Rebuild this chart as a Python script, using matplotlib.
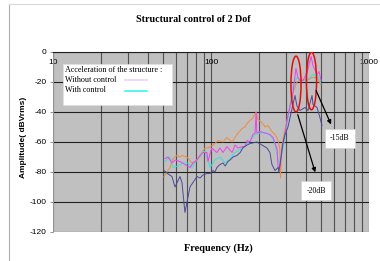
import matplotlib
matplotlib.use("Agg")
from matplotlib import pyplot as plt
from matplotlib.patches import Ellipse, Rectangle
from matplotlib.lines import Line2D
from matplotlib.ticker import FixedLocator, NullFormatter

# ---- data (Hz, dBVrms) ----
freq_navy = [50.4, 53, 56.6, 59.2, 63.6, 65.5, 68.4, 70.5, 73.6, 76.9, 81.5, 85.1, 89, 94.3, 98.6,
             103, 106, 109, 114, 119, 123, 128, 132, 138, 146, 153, 159, 169, 177, 195, 210, 226,
             236, 243, 254, 266, 269, 277, 285, 294, 307, 316, 330, 340, 350, 366, 393, 411, 436,
             442, 469, 490, 504]
amp_navy = [-79, -81, -83, -90, -83, -87, -107, -100, -90, -87, -83, -84, -82, -81, -81,
            -79, -80, -77, -75, -74, -76, -73, -72, -70, -69, -67, -64, -62, -61, -60, -62, -64,
            -67, -75, -79, -77, -80, -71, -61, -55, -50, -44, -35, -29, -36, -39, -37, -39, -29,
            -35, -37, -44, -49]

freq_orange = [50.4, 53.4, 55, 57.4, 60.9, 63.6, 65.5, 70.5, 75.8, 79.2, 85.1, 87.7, 91.6, 95.7,
               103, 111, 119, 126, 136, 146, 157, 164, 171, 184, 193, 198, 210, 220, 229, 243,
               254, 266, 273, 275, 281, 294, 307, 330, 350, 377, 405, 436, 469, 483, 497]
amp_orange = [-83, -79, -77, -71, -69, -70, -69, -70, -74, -73, -70, -67, -64, -64,
              -62, -59, -60, -57, -60, -55, -51, -50, -47, -44, -40, -45, -47, -50, -49, -53,
              -55, -59, -65, -84, -62, -52, -43, -27, -20, -18, -19, -17, -17, -20, -22]

freq_magenta = [51.2, 53.4, 56.6, 59.2, 63.6, 68.4, 73.6, 76.9, 81.5, 85.1, 89, 94.3, 95.7, 101,
                109, 114, 119, 126, 136, 142, 148, 159, 164, 169, 177, 184, 190, 193, 195, 204,
                220, 236, 247, 262, 266, 273, 281, 294, 307, 330, 340, 345, 355, 366, 382, 405,
                430, 442, 469, 483, 497]
amp_magenta = [-71, -70, -74, -72, -73, -75, -77, -74, -72, -69, -67, -67, -73, -64,
               -67, -64, -67, -63, -67, -62, -64, -63, -63, -59, -60, -55, -54, -40, -54, -53,
               -54, -55, -57, -65, -77, -76, -65, -54, -42, -28, -16, -11, -17, -19, -19, -14,
               -3, -9, -15, -13, -19]

freq_cyan = [51.2, 55, 57.4, 61.8, 66.5, 71.5, 75.8, 81.5, 87.7, 91.6, 98.6, 106, 114, 123, 132,
             142, 153, 162, 169, 177, 190, 204, 226, 243, 254, 262, 269, 281, 294, 307, 330, 350,
             366, 393, 424, 442, 475, 497]
amp_cyan = [-73, -70, -77, -76, -74, -74, -77, -72, -67, -66, -77, -72, -70, -74, -71,
            -67, -65, -63, -61, -59, -55, -54, -54, -57, -61, -69, -74, -68, -57, -44, -22, -17,
            -19, -19, -17, -15, -16, -21]

yticks = [0, -20, -40, -60, -80, -100, -120]
xticks = [10, 100, 1000]
legend_title = "Acceleration of the structure :"
legend_labels = ["Without control", "With control"]
legend_colors = ["#e8ccff", "#30f0f0"]

SERIF = "Liberation Serif"
SANS = "Liberation Sans"
W, H = 380.0, 261.0

fig = plt.figure(figsize=(3.8, 2.61), dpi=100)
fig.patch.set_facecolor("white")
ax = fig.add_axes([53 / W, 1 - 232 / H, 316 / W, 180 / H])
ax.set_facecolor("#c0c0c0")

ax.plot(freq_orange, amp_orange, color="#f08a3c", lw=0.7)
ax.plot(freq_cyan, amp_cyan, color="#38e0e0", lw=0.7)
ax.plot(freq_magenta, amp_magenta, color="#f040f0", lw=0.7)
ax.plot(freq_navy, amp_navy, color="#4a4a9c", lw=0.7)

ax.set_xscale("log")
ax.set_xlim(10, 1000)
ax.set_ylim(-120, 0)

# axes look (excel style: x axis on top at 0)
ax.xaxis.set_ticks_position("top")
ax.xaxis.set_major_locator(FixedLocator(xticks))
ax.set_xticklabels([str(t) for t in xticks], fontsize=6, family=SANS)
ax.xaxis.set_minor_formatter(NullFormatter())
ax.tick_params(axis="x", which="both", direction="in", length=0, pad=-10)
ax.set_yticks(yticks)
ax.set_yticklabels([str(t) for t in yticks], fontsize=6, family=SANS)
ax.tick_params(axis="y", length=2.5, width=0.6, color="#808080", pad=2)

ax.grid(True, which="both", axis="x", color="#505050", lw=0.8)
ax.grid(True, which="major", axis="y", color="#202020", lw=0.8)
ax.set_axisbelow(True)
for s in ["bottom", "right"]:
    ax.spines[s].set_visible(False)
ax.spines["left"].set_color("#a0a0a0")
ax.spines["left"].set_linewidth(0.6)
ax.spines["top"].set_color("#202020")
ax.spines["top"].set_linewidth(0.8)

# legend box (excel style, text left and sample line on the right)
fig.add_artist(Rectangle((63 / W, 1 - 105 / H), 109 / W, 41 / H, transform=fig.transFigure,
                         facecolor="white", edgecolor="#e0e0e0", lw=0.5, zorder=8))
fig.text(65 / W, 1 - 69.5 / H, legend_title, fontsize=5.9, family=SERIF, va="center", zorder=9)
for i, (lab, col) in enumerate(zip(legend_labels, legend_colors)):
    yy = 1 - (80 + 10.5 * i) / H
    fig.text(65 / W, yy, lab, fontsize=5.9, family=SERIF, va="center", zorder=9)
    fig.add_artist(Line2D([125 / W, 147 / W], [yy, yy], transform=fig.transFigure,
                          color=col, lw=1.1, zorder=9))

# red ellipses round the two resonances
for cx, cy, h in [(0.769, 0.822, 0.31), (0.818, 0.839, 0.32)]:
    ax.add_patch(Ellipse((cx, cy), 0.032, h, transform=ax.transAxes, fill=False,
                         edgecolor="#e01010", lw=1.1, zorder=5))

# arrows and attenuation labels
arr = dict(arrowstyle="-|>", color="black", lw=0.9, mutation_scale=6)
ax.annotate("", xy=(462, -82), xytext=(350, -40), arrowprops=arr, zorder=6)
ax.annotate("", xy=(585, -50), xytext=(455, -24), arrowprops=arr, zorder=6)
box = dict(boxstyle="square,pad=0.7", fc="white", ec="#d0d0d0", lw=0.5)
ax.text(462, -92.5, "-20dB", fontsize=5.7, family=SERIF, ha="center", va="center", bbox=box, zorder=7)
ax.text(655, -57.5, "-15dB", fontsize=5.7, family=SERIF, ha="center", va="center", bbox=box, zorder=7)

# titles
fig.text(0.508, 0.927, "Structural control of 2 Dof", ha="center", va="center",
         fontsize=7.2, fontweight="bold", family=SERIF)
fig.text(0.574, 0.05, "Frequency (Hz)", ha="center", va="center",
         fontsize=7.4, fontweight="bold", family=SERIF)
fig.text(0.063, 0.475, "Amplitude( dBVrms)", ha="center", va="center", rotation=90,
         fontsize=6, fontweight="bold", family=SANS)

# outer chart frame
fig.add_artist(Line2D([9 / W, 9 / W], [0, 1 - 4 / H], transform=fig.transFigure, color="#b0b0b0", lw=0.8))
fig.add_artist(Line2D([9 / W, 1], [1 - 4 / H, 1 - 4 / H], transform=fig.transFigure, color="#d8d8d8", lw=0.8))

fig.savefig("out.png", dpi=100)
